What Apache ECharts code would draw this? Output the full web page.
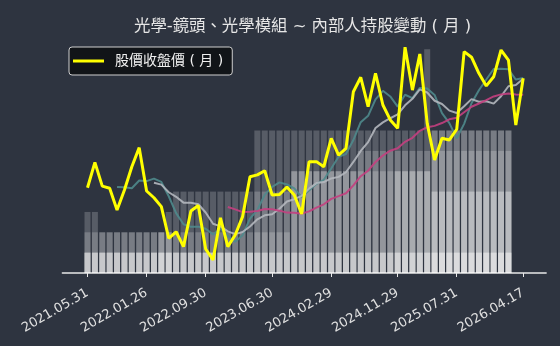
<!DOCTYPE html>
<html>
<head>
<meta charset="utf-8">
<script src="https://cdn.jsdelivr.net/npm/echarts@6/dist/echarts.min.js"></script>
<style>
html,body{margin:0;padding:0;background:#2e3440;}
#c{width:560px;height:346px;}
</style>
</head>
<body>
<div id="c"></div>
<script>
// Monthly close price (relative units), 2021.05 .. 2026.04
const closePrice = [36.6,47.5,37.3,36.4,27.0,35.6,45.6,53.8,35.2,32.3,
  28.5,14.9,17.7,11.3,26.6,29.0,10.3,5.6,23.7,11.3,
  16.3,24.2,41.3,42.1,43.9,33.5,33.7,36.9,33.5,25.3,
  47.8,47.8,45.6,57.8,50.6,53.5,77.8,84.0,71.4,85.7,
  72.1,65.7,62.1,96.9,78.5,94.0,64.2,48.5,57.8,57.1,
  61.7,95.0,92.6,85.7,80.3,84.2,95.7,91.4,63.5,83.6];

// Tick positions (month index) and their labels
const tickIndex = [0,8,16,25,33,42,50,59];
const tickLabels = ['2021.05.31','2022.01.26','2022.09.30','2023.06.30','2024.02.29','2024.11.29','2025.07.31','2026.04.17'];

// Insider holding layers (overlaid, in holding-level units)
const holdLayer1 = [3,3,2,2,2,2,2,2,2,2,2,3,4,4,4,4,4,4,4,4,4,4,4,7,7,7,7,7,7,7,7,7,7,7,7,7,7,7,7,7,7,7,7,7,7,7,11,7,7,7,7,7,7,7,7,7,7,7];
const holdLayer2 = [2,2,2,2,2,2,2,2,2,2,2,2,2,2,2,2,2,2,2,2,2,2,2,4,4,4,4,4,5,5,5,5,5,5,5,5,5,6,6,6,6,6,6,6,6,6,6,7,7,7,7,7,7,7,7,7,7,7];
const holdLayer3 = [1,1,1,1,1,1,1,1,1,1,2,2,1,1,1,1,1,1,1,1,1,1,1,2,2,2,2,2,5,5,5,5,5,5,5,5,5,5,5,5,5,5,5,5,5,5,5,6,6,6,6,6,6,6,6,6,6,6];
const holdLayer4 = [1,1,1,1,1,1,1,1,1,1,1,1,1,1,1,1,1,1,1,1,1,1,1,1,1,1,1,1,1,1,1,1,1,1,1,1,1,1,1,1,1,1,5,5,5,5,5,4,4,4,4,4,4,4,4,4,4,4];
const holdLayer5 = [1,1,1,1,1,1,1,1,1,1,1,1,1,1,1,1,1,1,1,1,1,1,1,1,1,1,1,1,1,1,1,1,1,1,1,1,1,1,1,1,1,1,1,1,1,1,1,4,4,4,4,4,4,4,4,4,4,4];
const holdLayer6 = [1,1,1,1,1,1,1,1,1,1,1,1,1,1,1,1,1,1,1,1,1,1,1,1,1,1,1,1,1,1,1,1,1,1,1,1,1,1,1,1,1,1,1,1,1,1,1,1,1,1,1,1,1,1,1,1,1,1];
const holdLayer7 = [0,0,0,0,0,0,0,0,0,0,1,1,0,0,0,0,0,0,0,0,0,0,0,0,0,0,0,0,0,0,0,0,0,0,0,0,0,0,0,0,0,0,1,1,1,1,1,1,1,1,1,1,1,1,1,1,1,1];
const holdLayer8 = [0,0,0,0,0,0,0,0,0,0,0,0,0,0,0,0,0,0,0,0,0,0,0,0,0,0,0,0,0,0,0,0,0,0,0,0,0,0,0,0,0,0,0,0,0,0,0,1,1,1,1,1,1,1,1,1,1,1];

function movingAverage(arr, n){
  return arr.map((v,i)=>{
    if(i<n-1) return null;
    let s=0; for(let k=i-n+1;k<=i;k++) s+=arr[k];
    return s/n;
  });
}
const ma5 = movingAverage(closePrice,5);
const ma10 = movingAverage(closePrice,10);
const ma20 = movingAverage(closePrice,20);

const toPts = arr => arr.map((v,i)=>[i,v]);
const labelMap = {}; tickIndex.forEach((t,i)=>labelMap[t]=tickLabels[i]);

const layers = [holdLayer1,holdLayer2,holdLayer3,holdLayer4,holdLayer5,holdLayer6,holdLayer7,holdLayer8];
const barSeries = layers.map((arr,j)=>({
  name:'layer'+(j+1), type:'bar', xAxisIndex:0, yAxisIndex:1,
  data: toPts(arr), barWidth:6, barGap:'-100%', silent:true, z:1,
  itemStyle:{color:'rgba(255,255,255,0.2)'}
}));

const FONT = "'DejaVu Sans', 'Noto Sans CJK TC', sans-serif";
const chart = echarts.init(document.getElementById('c'), null, {renderer:'canvas'});
chart.setOption({
  backgroundColor:'#2e3440',
  animation:false,
  title:{
    text:'光學-鏡頭、光學模組 ~ 內部人持股變動 ( 月 )',
    left:129, top:14,
    textStyle:{color:'#e6e6e6', fontSize:16.4, fontWeight:'normal', fontFamily:FONT}
  },
  legend:{
    data:[{name:'股價收盤價 ( 月 )', icon:'rect'}],
    left:69, top:47,
    padding:[7,9,7,4],
    itemWidth:31, itemHeight:3,
    backgroundColor:'#111418', borderColor:'#cfcfcf', borderWidth:1, borderRadius:3,
    textStyle:{color:'#f0f0f0', fontSize:14, fontFamily:FONT, padding:[0,0,0,6]}
  },
  grid:{left:62.4, top:40, width:483.7, height:233, containLabel:false},
  xAxis:{
    type:'value', min:-3.4, max:62.1,
    splitLine:{show:false},
    axisLine:{lineStyle:{color:'#e8e8e8', width:1.5}},
    axisTick:{show:true, customValues:tickIndex, length:4, lineStyle:{color:'#e8e8e8'}},
    axisLabel:{customValues:tickIndex, rotate:30, color:'#e0e0e0', fontSize:13, margin:19,
      fontFamily:'DejaVu Sans', formatter:v=>labelMap[v]||''}
  },
  yAxis:[
    {type:'value', min:0, max:100, show:false, splitLine:{show:false}},
    {type:'value', min:0, max:11.45, show:false, splitLine:{show:false}}
  ],
  series:[
    ...barSeries,
    {name:'MA5', type:'line', data:toPts(ma5), showSymbol:false, symbol:'none', z:2,
      lineStyle:{color:'#4f8a8c', width:2, opacity:0.9}},
    {name:'MA10', type:'line', data:toPts(ma10), showSymbol:false, symbol:'none', z:2,
      lineStyle:{color:'#b4b7be', width:2, opacity:0.9}},
    {name:'MA20', type:'line', data:toPts(ma20), showSymbol:false, symbol:'none', z:2,
      lineStyle:{color:'#c43f80', width:2, opacity:0.9}},
    {name:'股價收盤價 ( 月 )', type:'line', data:toPts(closePrice), showSymbol:false, symbol:'none', z:3,
      itemStyle:{color:'#ffff00'}, lineStyle:{color:'#ffff00', width:3}}
  ]
});
</script>
</body>
</html>
